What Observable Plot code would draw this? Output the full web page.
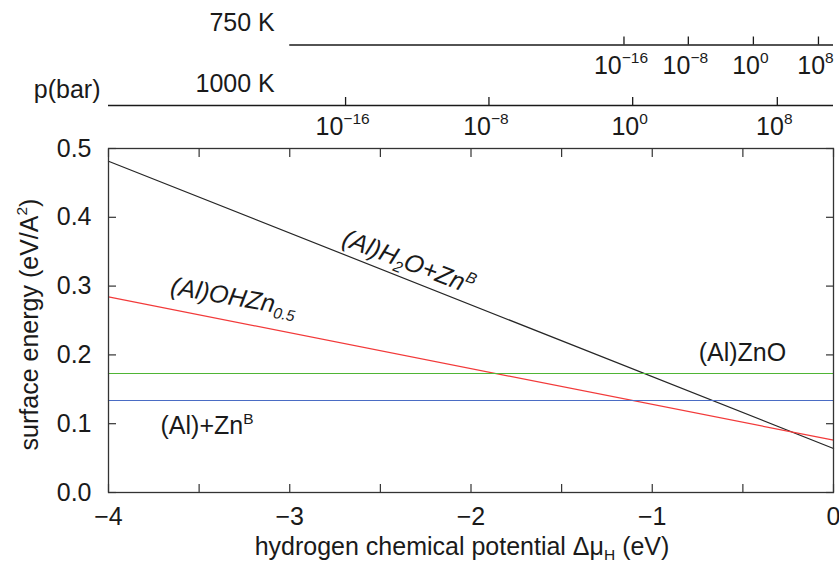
<!DOCTYPE html>
<html><head><meta charset="utf-8">
<script src="https://cdn.jsdelivr.net/npm/d3@7"></script>
<script src="https://cdn.jsdelivr.net/npm/@observablehq/plot@0.6"></script>
<style>
body{margin:0;background:#fff;}
#chart{width:839px;height:564px;overflow:hidden;background:#fff;}
#chart svg{display:block;}
</style></head><body><div id="chart"></div>
<script>
const FONT = "'Liberation Sans', Arial, Helvetica, sans-serif";

// ---- main chart data ----
const xEnds = [-4, 0];
const seriesNames = ["H2O+ZnB", "OHZn0.5", "ZnO", "Al+ZnB"];
const h2oZn = [0.4815, 0.064];
const ohZn = [0.2843, 0.076];
const znO = [0.173, 0.173];
const alZn = [0.1337, 0.1337];
const seriesColors = ["#262626", "#f23a3a", "#4fb535", "#4a6cc4"];
const xTicks = [-4, -3, -2, -1, 0];
const xMinorTicks = [-4, -3.5, -3, -2.5, -2, -1.5, -1, -0.5, 0];
const yTicks = [0, 0.1, 0.2, 0.3, 0.4, 0.5];

// line labels
const labelTexts = ["(Al)H_{2}O+Zn^{B}", "(Al)OHZn_{0.5}", "(Al)ZnO", "(Al)+Zn^{B}"];
const labelX = [-2.344, -3.31, -0.744, -3.713];
const labelY = [0.3347, 0.2839, 0.2025, 0.0961];
const labelAngle = [21, 10, 0, 0];

// ---- pressure axes ----
const tempRows = ["750 K", "1000 K"];
const axisStart = [-3, -4];
const axisEnd = [0, 0];
const pExponents = [-16, -8, 0, 8];
const pTicks750 = [-1.156, -0.801, -0.442, -0.083];
const pTicks1000 = [-2.692, -1.901, -1.108, -0.310];

const fmtInt = d3.format("d");
const seriesValues = [h2oZn, ohZn, znO, alZn];
const lineData = seriesNames.flatMap((s, i) => xEnds.map((x, j) => ({s, x, y: seriesValues[i][j]})));
const labels = labelTexts.map((text, i) => ({text, x: labelX[i], y: labelY[i], r: labelAngle[i], i}));
const rows = tempRows.map((t, i) => ({t, x1: axisStart[i], x2: axisEnd[i]}));
const pTicks = [
  ...pExponents.map((e, i) => ({t: "750 K", x: pTicks750[i], e})),
  ...pExponents.map((e, i) => ({t: "1000 K", x: pTicks1000[i], e}))
];

const INK = "#1a1a1a";

const topPlot = Plot.plot({
  width: 839, height: 136, marginLeft: 108, marginRight: 6, marginTop: 0, marginBottom: 0,
  style: {fontFamily: FONT, background: "white", color: INK, overflow: "visible"},
  x: {domain: [-4, 0], axis: null},
  y: {type: "band", domain: tempRows, range: [36.5, 105], paddingInner: 0.8678, paddingOuter: 0, round: false, axis: null},
  marks: [
    Plot.ruleY(rows, {y: "t", x1: "x1", x2: "x2", dy: 4, stroke: INK, strokeWidth: 1.3}),
    Plot.tickX(pTicks, {x: "x", y: "t", stroke: INK, strokeWidth: 1.3}),
    Plot.text(pTicks, {x: "x", y: "t", text: d => `10^{${fmtInt(d.e)}}`, dy: 25, dx: -3, fontSize: 25, fill: INK}),
    Plot.text(rows, {x: axisStart[0], y: "t", text: "t", textAnchor: "end", dx: -15, dy: -18, fontSize: 25, fill: INK}),
    Plot.text(["p(bar)"], {x: axisStart[1], y: () => tempRows[1], text: d => d, textAnchor: "end", dx: -8, dy: -12, fontSize: 25, fill: INK})
  ]
});

const mainPlot = Plot.plot({
  width: 839, height: 428, marginTop: 12, marginBottom: 72, marginLeft: 108, marginRight: 6,
  style: {fontFamily: FONT, background: "white", color: INK, overflow: "visible"},
  x: {domain: [-4, 0]},
  y: {domain: [0, 0.5]},
  color: {domain: seriesNames, range: seriesColors},
  marks: [
    Plot.line(lineData, {x: "x", y: "y", z: "s", stroke: "s", strokeWidth: 1.2}),
    Plot.frame({stroke: "#333", strokeWidth: 1.3}),
    Plot.axisX({ticks: xTicks, tickSize: 0, tickPadding: 15, tickFormat: fmtInt, label: null, fontSize: 25}),
    Plot.axisX({ticks: xMinorTicks, tickSize: -8, fill: "none", label: null, stroke: "#333", strokeWidth: 1.2}),
    Plot.axisX({anchor: "top", ticks: xMinorTicks, tickSize: -8, fill: "none", label: null, stroke: "#333", strokeWidth: 1.2}),
    Plot.axisY({ticks: yTicks, tickSize: 0, tickPadding: 17, tickFormat: d3.format(".1f"), label: null, fontSize: 25}),
    Plot.axisY({ticks: yTicks, tickSize: -8, fill: "none", label: null, stroke: "#333", strokeWidth: 1.2}),
    Plot.axisY({anchor: "right", ticks: yTicks, tickSize: -8, fill: "none", label: null, stroke: "#333", strokeWidth: 1.2}),
    Plot.text(labels.filter(d => d.r !== 0), {x: "x", y: "y", text: "text", rotate: "r", fontSize: 25, fontStyle: "italic", fill: INK}),
    Plot.text(labels.filter(d => d.r === 0), {x: "x", y: "y", text: "text", textAnchor: "start", fontSize: 25, fill: INK}),
    Plot.text(["hydrogen chemical potential Δμ_{H} (eV)"], {frameAnchor: "bottom", text: d => d, textAnchor: "middle", lineAnchor: "middle", dy: 54, dx: -9, fontSize: 25, fill: INK}),
    Plot.text(["surface energy (eV/A^{2})"], {frameAnchor: "left", text: d => d, textAnchor: "middle", lineAnchor: "middle", rotate: -90, dx: -79, dy: 4, fontSize: 25, fill: INK})
  ]
});

const chart = document.getElementById("chart");
chart.appendChild(topPlot);
chart.appendChild(mainPlot);

function richify(root) {
  root.querySelectorAll("text").forEach(t => {
    if (t.querySelector("tspan")) return;
    const s = t.textContent;
    if (!/[\^_]\{/.test(s)) return;
    const fs = parseFloat(getComputedStyle(t).fontSize) || 25;
    const parts = s.split(/(\^\{[^}]*\}|_\{[^}]*\})/).filter(p => p !== "");
    t.textContent = "";
    let shift = 0;
    for (const p of parts) {
      const ts = document.createElementNS("http://www.w3.org/2000/svg", "tspan");
      let target = 0, size = null, txt = p;
      if (p.startsWith("^{")) { target = -0.42 * fs; size = 0.62 * fs; txt = p.slice(2, -1); }
      else if (p.startsWith("_{")) { target = 0.22 * fs; size = 0.62 * fs; txt = p.slice(2, -1); }
      ts.setAttribute("dy", (target - shift).toFixed(2));
      shift = target;
      if (size) ts.setAttribute("font-size", size.toFixed(1));
      ts.textContent = txt;
      t.appendChild(ts);
    }
  });
}
richify(chart);
</script>
</body></html>
